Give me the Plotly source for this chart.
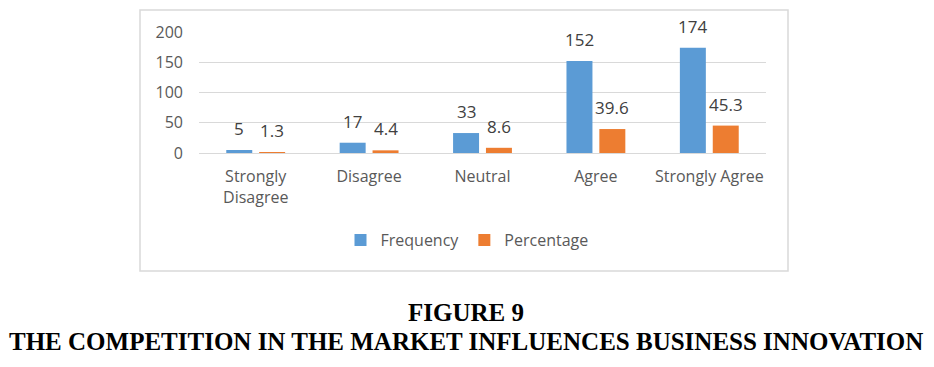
import plotly.graph_objects as go

categories = ["Strongly<br>Disagree", "Disagree", "Neutral", "Agree", "Strongly Agree"]
frequency = [5, 17, 33, 152, 174]
percentage = [1.3, 4.4, 8.6, 39.6, 45.3]
y_ticks = [0, 50, 100, 150, 200]

W, H = 934, 367
L, R, T, B = 199, 766, 32, 153  # plot area in px

def px_x(x):
    return (x - L) / (R - L)

def px_y(y):
    return (B - y) / (B - T)

fig = go.Figure()
fig.add_trace(go.Bar(x=categories, y=frequency, name="Frequency",
                     marker=dict(color="#5B9BD5", line=dict(width=0))))
fig.add_trace(go.Bar(x=categories, y=percentage, name="Percentage",
                     marker=dict(color="#ED7D31", line=dict(width=0))))

# data labels above bars
for series, dx in ((frequency, -16.5), (percentage, 16.5)):
    for c, v in zip(categories, series):
        fig.add_annotation(x=c, y=v, text=str(v), showarrow=False,
                           xshift=dx, yshift=8, yanchor="bottom",
                           xanchor="center",
                           font=dict(family="Open Sans", size=17, color="#404040"))

fig.update_layout(
    width=W, height=H,
    margin=dict(l=L, r=W - R, t=T, b=H - B, pad=0, autoexpand=False),
    paper_bgcolor="white", plot_bgcolor="white",
    barmode="group", bargap=0.42, bargroupgap=0.21,
    font=dict(family="Open Sans", color="#595959"),
    showlegend=True,
    legend=dict(orientation="h", xref="container", yref="container",
                x=0.5, xanchor="center", y=1 - 240 / H, yanchor="middle",
                font=dict(size=16, color="#595959"),
                traceorder="normal"),
    xaxis=dict(showgrid=False, showline=False, ticks="",
               tickfont=dict(size=16, color="#595959"),
               ticklabelstandoff=12, automargin=False),
    yaxis=dict(range=[0, 200], tickvals=y_ticks, showgrid=True,
               gridcolor="#d9d9d9", gridwidth=1, zeroline=True,
               zerolinecolor="#d9d9d9", zerolinewidth=1, showline=False,
               ticks="", tickfont=dict(size=16, color="#595959"),
               ticklabelstandoff=15, automargin=False),
)

fig.add_shape(type="rect", xref="paper", yref="paper",
              x0=px_x(140), x1=px_x(788), y0=px_y(271), y1=px_y(10),
              line=dict(color="#d9d9d9", width=1.5), fillcolor="rgba(0,0,0,0)",
              layer="below")

fig.add_annotation(text="<b>FIGURE 9</b>", xref="paper", yref="paper",
                   x=px_x(466), y=px_y(312), showarrow=False,
                   xanchor="center", yanchor="middle",
                   font=dict(family="Liberation Serif", size=25, color="black"))
fig.add_annotation(text="<b>THE COMPETITION IN THE MARKET INFLUENCES BUSINESS INNOVATION</b>",
                   xref="paper", yref="paper",
                   x=px_x(466), y=px_y(341), showarrow=False,
                   xanchor="center", yanchor="middle",
                   font=dict(family="Liberation Serif", size=25, color="black"))

fig.write_html("out.html", config={"displayModeBar": False},
               post_script="document.body.style.margin='0';")
